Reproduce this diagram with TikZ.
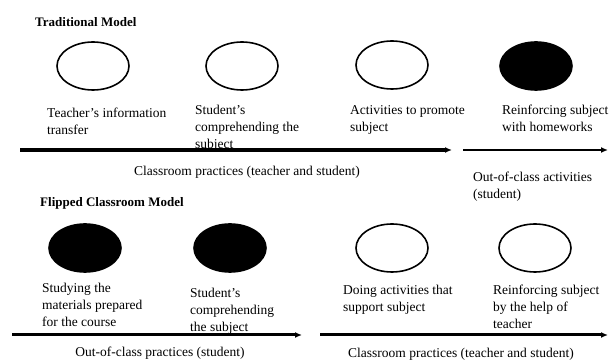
\documentclass[tikz,border=0pt]{standalone}
\usepackage{fontspec}
\setmainfont{Liberation Serif}
\usetikzlibrary{positioning, shapes.geometric, arrows.meta}

\begin{document}
\begin{tikzpicture}[x=1pt, y=1pt, every node/.style={inner sep=0pt, align=left, font=\fontsize{13.5}{17}\selectfont},
  phase/.style={ellipse, draw, line width=1.6pt, minimum width=72pt, minimum height=48pt},
  openphase/.style={phase, fill=white},
  fullphase/.style={phase, fill=black},
  flow/.style={line width=3pt, -{Latex[length=7pt, width=6pt]}}]

  \useasboundingbox (0,0) rectangle (614,362);

  % Traditional model
  \node (trad) [anchor=base west, font=\fontsize{13}{16}\selectfont\bfseries] at (35,335) {Traditional Model};
  \node (transfer) [openphase] at (93,296) {};
  \node (comprehend) [openphase] at (242,296) {};
  \node (activities) [openphase] at (392,297) {};
  \node (homework) [fullphase] at (536,296) {};

  \node (transfer_txt) [anchor=north west] at (47,254) {Teacher's information\\transfer};
  \node (comprehend_txt) [anchor=north west] at (195,257) {Student's\\comprehending the\\subject};
  \node (activities_txt) [anchor=north west] at (350,257) {Activities to promote\\subject};
  \node (homework_txt) [anchor=north west] at (502,257) {Reinforcing subject\\with homeworks};

  % Arrows
  \coordinate (class_start) at (20,212);
  \coordinate (class_end) at (452,212);
  \coordinate (out_start) at (463,212);
  \coordinate (out_end) at (608,212);
  \draw[flow, line width=3.5pt] (class_start) -- (class_end);
  \draw[flow, line width=2.5pt] (out_start) -- (out_end);

  \node (class_txt) at (247,190) {Classroom practices (teacher and student)};
  \node (out_txt) [anchor=north west] at (473,190) {Out-of-class activities\\(student)};

  % Flipped model
  \node (flip) [anchor=base west, font=\fontsize{13}{16}\selectfont\bfseries] at (40,155) {Flipped Classroom Model};
  \node (studying) [fullphase] at (85,114) {};
  \node (understand) [fullphase] at (230,114) {};
  \node (doing) [openphase] at (392,114) {};
  \node (reinforce) [openphase] at (535,114) {};

  \node (studying_txt) [anchor=north west] at (42,79) {Studying the\\materials prepared\\for the course};
  \node (understand_txt) [anchor=north west] at (190,74) {Student's\\comprehending\\the subject};
  \node (doing_txt) [anchor=north west] at (343,77) {Doing activities that\\support subject};
  \node (reinforce_txt) [anchor=north west] at (493,77) {Reinforcing subject\\by the help of\\teacher};

  \coordinate (home_start) at (12,27);
  \coordinate (home_end) at (302,27);
  \coordinate (room_start) at (320,27);
  \coordinate (room_end) at (608,27);
  \draw[flow] (home_start) -- (home_end);
  \draw[flow] (room_start) -- (room_end);

  \node (home_txt) at (160,9) {Out-of-class practices (student)};
  \node (room_txt) at (461,8) {Classroom practices (teacher and student)};

\end{tikzpicture}
\end{document}
